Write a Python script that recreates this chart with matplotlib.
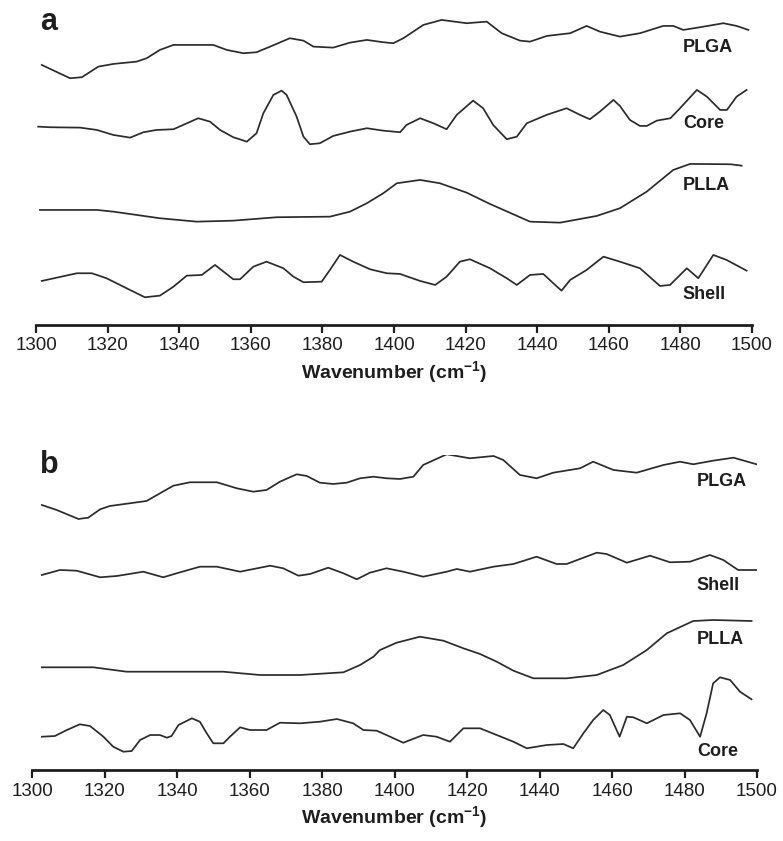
import matplotlib.pyplot as plt

plt.rcParams['font.family'] = ['Liberation Sans', 'DejaVu Sans']
plt.rcParams['mathtext.fontset'] = 'custom'
plt.rcParams['mathtext.rm'] = 'Liberation Sans'
plt.rcParams['mathtext.bf'] = 'Liberation Sans:bold'
plt.rcParams['mathtext.default'] = 'bf'

# panel a, stacked FTIR traces (wavenumber, offset intensity in a.u.)
a_plga_wn = [1301.6, 1309.5, 1312.8, 1317.4, 1321.6, 1328.1, 1330.9, 1334.6, 1338.4, 1349.5,
             1353.3, 1357.9, 1361.6, 1365.4, 1370.9, 1374.7, 1377.5, 1383.0, 1387.7, 1392.4,
             1397.0, 1399.8, 1402.6, 1408.2, 1413.3, 1420.3, 1425.9, 1430.1, 1435.2, 1438.0,
             1442.7, 1449.2, 1453.8, 1457.5, 1463.1, 1468.7, 1475.2, 1478.0, 1480.8, 1485.5,
             1492.0, 1495.7, 1499.0]
a_plga = [260, 246.7, 247.7, 258.3, 261, 263.3, 266.7, 275, 280, 280,
          275, 271.7, 272.7, 278.3, 286.7, 284.3, 278.3, 277.3, 282.3, 285,
          282.7, 281.7, 286.7, 300, 305, 301.7, 303.3, 291.7, 284.3, 283.3,
          289, 291.7, 299, 293.3, 288.3, 291.7, 299, 299, 295, 297.7,
          301.7, 299, 295]

a_core_wn = [1300.6, 1303.9, 1312.3, 1317.0, 1321.6, 1326.3, 1330.0, 1333.7, 1338.4, 1341.1,
             1345.3, 1348.6, 1351.4, 1355.1, 1358.9, 1361.6, 1363.5, 1366.3, 1368.6, 1370.0,
             1372.8, 1374.7, 1376.5, 1379.3, 1383.0, 1387.7, 1392.4, 1397.0, 1401.7, 1403.5,
             1407.3, 1411.0, 1414.7, 1417.5, 1422.1, 1424.9, 1427.7, 1431.5, 1434.3, 1437.1,
             1442.6, 1448.2, 1452.0, 1454.7, 1457.5, 1461.3, 1463.1, 1465.9, 1468.7, 1470.6,
             1473.4, 1477.2, 1479.9, 1484.6, 1487.4, 1491.1, 1493.0, 1495.7, 1498.5]
a_core = [198.3, 197.7, 197.3, 195, 190, 187.3, 192.7, 195, 195.7, 200,
          206.7, 203.3, 195, 187.7, 183.3, 191.7, 211.7, 230, 234.3, 230,
          208.3, 188.3, 180.7, 181.7, 189, 193.3, 196.7, 194.3, 192.7, 200,
          206.7, 201.7, 195.7, 210, 224.3, 216.7, 200, 185.7, 188.3, 201.7,
          210, 216.7, 210, 205.7, 213.3, 225, 219, 205, 199, 199,
          204.3, 206.7, 216.7, 235, 228.3, 215, 215, 228.3, 235]

a_plla_wn = [1301.1, 1317.0, 1321.6, 1334.6, 1344.9, 1355.1, 1367.2, 1382.1, 1387.7, 1392.4,
             1397.0, 1400.8, 1407.3, 1412.8, 1420.3, 1426.8, 1438.0, 1446.4, 1456.6, 1463.1,
             1470.6, 1478.0, 1482.7, 1493.9, 1497.1]
a_plla = [115, 115, 113.3, 106.7, 103.3, 104.3, 107.7, 108.3, 113.3, 121.7,
          131.7, 141.7, 145, 141.7, 132.3, 121, 103.3, 102.3, 109, 116.7,
          133.3, 155, 161, 160.7, 159.3]

a_shell_wn = [1301.6, 1311.4, 1315.6, 1319.7, 1325.3, 1330.4, 1334.6, 1338.4, 1342.1, 1346.3,
              1350.0, 1355.1, 1357.0, 1360.7, 1364.4, 1369.1, 1371.9, 1374.7, 1379.8, 1382.1,
              1384.9, 1388.6, 1393.3, 1398.0, 1401.7, 1407.3, 1411.5, 1414.7, 1418.4, 1421.2,
              1426.8, 1431.5, 1434.3, 1438.0, 1441.7, 1444.5, 1446.8, 1449.2, 1453.8, 1458.5,
              1463.1, 1468.7, 1474.3, 1477.1, 1481.8, 1485.0, 1489.2, 1492.9, 1498.5]
a_shell = [44, 51.7, 51.7, 46.7, 36.7, 27.7, 29.3, 38.3, 49.3, 50,
           60, 45.7, 45.7, 58.3, 63.3, 56.7, 48.3, 42.7, 43.3, 55,
           70, 63.3, 55.7, 51.7, 51, 44, 40, 48.3, 63.3, 65.7,
           56.7, 46.7, 40, 50, 51, 41.7, 34.3, 45, 55, 68.3,
           63.3, 56.7, 39, 40, 56.7, 46.7, 70, 65, 54.3]

# panel b
b_plga_wn = [1302.7, 1306.8, 1312.8, 1315.5, 1318.8, 1321.5, 1331.6, 1335.3, 1339.0, 1343.6,
             1351.0, 1356.5, 1361.0, 1364.7, 1368.4, 1373.0, 1375.8, 1379.4, 1383.1, 1386.8,
             1390.5, 1394.2, 1397.8, 1401.5, 1405.2, 1407.9, 1414.4, 1420.8, 1427.3, 1430.0,
             1434.6, 1439.2, 1443.8, 1451.2, 1454.8, 1460.4, 1466.8, 1474.2, 1478.8, 1482.4,
             1487.9, 1493.5, 1499.9]
b_plga = [265, 260, 251, 252.3, 260.7, 264, 269, 276.7, 284.3, 287.7,
          287.7, 281.7, 278.3, 280, 288.3, 295.7, 294, 287.3, 286, 287.3,
          291.7, 293.3, 291.7, 291, 293.3, 305, 315.7, 311.7, 314, 310,
          295, 291.7, 297.3, 301.7, 308.3, 300, 297.3, 305, 308.3, 305.7,
          309.3, 312.3, 305.7]

b_shell_wn = [1302.7, 1307.7, 1312.3, 1318.8, 1323.4, 1330.7, 1336.2, 1339.9, 1346.3, 1351.0,
              1357.4, 1365.7, 1369.3, 1373.5, 1376.7, 1381.7, 1385.9, 1389.6, 1393.2, 1397.8,
              1402.4, 1407.9, 1414.4, 1417.2, 1420.8, 1427.3, 1432.8, 1439.2, 1444.7, 1447.5,
              1455.8, 1458.5, 1464.1, 1470.5, 1476.0, 1481.5, 1487.0, 1490.7, 1494.8, 1499.9]
b_shell = [195, 200, 199.3, 192.7, 194, 198.3, 192.7, 196.7, 203.3, 203.3,
           198.3, 204.3, 201.7, 194.3, 196, 202.3, 196.7, 190.7, 197.3, 201.7,
           198.3, 193.3, 198.3, 201, 198.3, 203.3, 206, 213.3, 206, 206,
           217.3, 216, 207.3, 214.3, 207.7, 208.3, 215, 210, 200, 200]

b_plla_wn = [1302.7, 1316.9, 1326.1, 1352.8, 1362.9, 1373.9, 1385.9, 1390.5, 1394.2, 1396.0,
             1400.6, 1407.0, 1413.5, 1419.0, 1423.6, 1428.2, 1432.8, 1438.3, 1447.5, 1455.8,
             1463.1, 1469.6, 1475.1, 1482.4, 1487.9, 1498.5]
b_plla = [102.7, 102.7, 98.3, 98.3, 95, 95, 97.7, 105, 113.3, 120,
          127.3, 133.3, 129.3, 121.7, 116, 108.3, 99.3, 91.7, 91.7, 95,
          105, 120, 136.7, 149, 150, 149]

b_core_wn = [1302.7, 1306.3, 1309.6, 1313.2, 1316.0, 1319.7, 1322.4, 1325.2, 1327.5, 1329.8,
             1332.6, 1335.3, 1337.2, 1338.5, 1340.4, 1344.1, 1346.3, 1348.2, 1350.0, 1352.8,
             1354.6, 1357.4, 1360.1, 1364.7, 1368.4, 1373.9, 1379.4, 1384.1, 1388.6, 1391.4,
             1395.1, 1398.8, 1402.4, 1407.9, 1411.6, 1415.3, 1419.0, 1423.6, 1432.8, 1436.5,
             1442.0, 1446.6, 1449.3, 1452.1, 1454.8, 1457.6, 1459.4, 1462.1, 1464.1, 1465.9,
             1469.6, 1474.2, 1478.8, 1481.5, 1484.3, 1486.1, 1487.9, 1489.8, 1492.6, 1495.3,
             1498.5]
b_core = [33.3, 34, 40, 45.7, 44, 33.3, 23.3, 18.3, 19, 30,
          35, 35, 32.3, 34, 45, 51.7, 48.3, 36.7, 26.7, 26.7,
          33.3, 42.7, 40, 40, 47.3, 46.7, 48.3, 51, 46.7, 40,
          39.3, 33.3, 27.3, 35, 33.3, 28.3, 41.7, 41.7, 28.3, 21.7,
          25, 26, 21.7, 36.7, 50, 60, 55, 33.3, 53.3, 52.7,
          46.7, 55, 56.7, 50, 33.3, 56.7, 86.7, 92.7, 90, 78.3,
          70.7]

a_labels = ['PLGA', 'Core', 'PLLA', 'Shell']
a_label_y = [277, 201, 139, 30]
b_labels = ['PLGA', 'Shell', 'PLLA', 'Core']
b_label_y = [288, 184, 131, 19]

ticks = list(range(1300, 1501, 20))
line_color = '#2b2b2b'
text_color = '#1e1e1e'

fig = plt.figure(figsize=(7.83, 8.41), dpi=100)
ax_a = fig.add_axes([0.046, 0.6136, 0.9144, 0.3746])
ax_b = fig.add_axes([0.0409, 0.0844, 0.9259, 0.3746])

panels = [
    (ax_a, [(a_plga_wn, a_plga), (a_core_wn, a_core), (a_plla_wn, a_plla), (a_shell_wn, a_shell)],
     a_labels, a_label_y, 1480.7, 'a'),
    (ax_b, [(b_plga_wn, b_plga), (b_shell_wn, b_shell), (b_plla_wn, b_plla), (b_core_wn, b_core)],
     b_labels, b_label_y, 1483.4, 'b'),
]

for ax, traces, labels, label_y, label_x, letter in panels:
    for wn, vals in traces:
        ax.plot(wn, vals, color=line_color, lw=1.25, solid_joinstyle='round')
    for name, ly in zip(labels, label_y):
        ax.text(label_x, ly, name, fontsize=13, fontweight='bold', color=text_color,
                ha='left', va='center')

    ax.set_xlim(1300, 1500)
    ax.set_ylim(0, 315)
    ax.set_xticks(ticks)
    ax.set_yticks([])
    for side in ['top', 'left', 'right']:
        ax.spines[side].set_visible(False)
    ax.spines['bottom'].set_linewidth(2.0)
    ax.spines['bottom'].set_color(text_color)
    ax.tick_params(axis='x', direction='out', length=6, width=1.6, color=text_color,
                   labelsize=13.5, labelcolor=text_color, pad=3)
    ax.set_xlabel('Wavenumber (cm$^{-1}$)', fontsize=14, fontweight='bold',
                  color=text_color, labelpad=3)
    ax.patch.set_alpha(0)

fig.text(40 / 783, 1 - 30 / 841, 'a', fontsize=22, fontweight='bold', color=text_color,
         ha='left', va='baseline')
fig.text(40 / 783, 1 - 473 / 841, 'b', fontsize=22, fontweight='bold', color=text_color,
         ha='left', va='baseline')

fig.savefig('out.png', dpi=100)
